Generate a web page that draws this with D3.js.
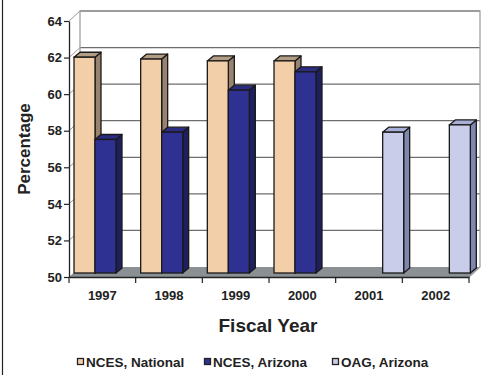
<!DOCTYPE html>
<html>
<head>
<meta charset="utf-8">
<script src="https://cdn.jsdelivr.net/npm/d3@7"></script>
<style>
  html, body { margin: 0; padding: 0; background: #fff; }
  svg { display: block; font-family: Arial, "Liberation Sans", sans-serif; }
</style>
</head>
<body>
<script>
// data
const years = ['1997', '1998', '1999', '2000', '2001', '2002'];
const seriesNames = ['NCES, National', 'NCES, Arizona', 'OAG, Arizona'];
const national = [61.8, 61.7, 61.6, 61.6, null, null];
const arizona  = [57.3, 57.7, 60.0, 61.0, null, null];
const oag      = [null, null, null, null, 57.7, 58.1];
const yTicks = [50, 52, 54, 56, 58, 60, 62, 64];

const width = 487, height = 375;
const fontStack = 'Arial, "Liberation Sans", sans-serif';

// 3d offsets
const wallDx = 11, wallDy = -10;   // back wall depth
const barOx = 4, barOy = -4;      // bar front face offset from axis plane
const barDx = 6, barDy = -5;      // bar depth

const colors = [
  { front: '#F2CFA9', top: '#B29C84', side: '#978370' },
  { front: '#2E3192', top: '#2A2D82', side: '#1D1F5E' },
  { front: '#C9CDE9', top: '#A8AFD4', side: '#7E87AE' }
];

const svg = d3.select('body').append('svg')
  .attr('width', width)
  .attr('height', height);

// left frame line
svg.append('line')
  .attr('x1', 2.5).attr('x2', 2.5).attr('y1', 0).attr('y2', height)
  .attr('stroke', '#222').attr('stroke-width', 1.2);

const x = d3.scaleBand().domain(years).range([69, 469]).paddingInner(0).paddingOuter(0);
const xSeries = d3.scaleBand().domain(seriesNames).range([1, 64]);
const y = d3.scaleLinear().domain([50, 64]).range([277, 21]);

// floor
svg.append('polygon')
  .attr('points', [[x.range()[0], y(50)], [x.range()[0] + wallDx, y(50) + wallDy],
                   [x.range()[1] + wallDx, y(50) + wallDy], [x.range()[1], y(50)]].join(' '))
  .attr('fill', '#8A9094');

// back wall
svg.append('rect')
  .attr('x', x.range()[0] + wallDx)
  .attr('y', y(64) + wallDy)
  .attr('width', x.range()[1] - x.range()[0])
  .attr('height', y(50) - y(64))
  .attr('fill', '#fff');

// gridlines on back wall and left wall
yTicks.filter(v => v > 50).forEach(v => {
  svg.append('line')
    .attr('x1', x.range()[0] + wallDx).attr('x2', x.range()[1] + wallDx)
    .attr('y1', y(v) + wallDy).attr('y2', y(v) + wallDy)
    .attr('stroke', '#6e6e6e').attr('stroke-width', 1.3);
  svg.append('line')
    .attr('x1', x.range()[0]).attr('x2', x.range()[0] + wallDx)
    .attr('y1', y(v)).attr('y2', y(v) + wallDy)
    .attr('stroke', '#9a9a9a').attr('stroke-width', 1);
});

// wall edges
svg.append('path')
  .attr('d', 'M' + (x.range()[0] + wallDx) + ',' + (y(50) + wallDy) +
             'V' + (y(64) + wallDy) + 'H' + (x.range()[1] + wallDx) +
             'V' + (y(50) + wallDy) + 'L' + x.range()[1] + ',' + y(50))
  .attr('fill', 'none').attr('stroke', '#a0a0a0').attr('stroke-width', 1.3);

// bars
const values = [national, arizona, oag];
const bars = [];
years.forEach((yr, i) => {
  values.forEach((vals, s) => {
    if (vals[i] == null) return;
    bars.push({ year: yr, s: s, value: vals[i] });
  });
});

const base = y(50) + barOy;
function yBar(v) { return base - (y(50) - y(v)); }

const barG = svg.append('g').selectAll('g')
  .data(bars)
  .enter()
  .append('g');

barG.each(function(d) {
  const g = d3.select(this);
  const x0 = x(d.year) + xSeries(seriesNames[d.s]) + barOx;
  const w = xSeries.bandwidth();
  const yt = yBar(d.value);
  const c = colors[d.s];
  g.append('polygon')
    .attr('points', [[x0 + w, yt], [x0 + w + barDx, yt + barDy], [x0 + w + barDx, base + barDy], [x0 + w, base]].join(' '))
    .attr('fill', c.side).attr('stroke', '#1a1a1a').attr('stroke-width', 1.3).attr('stroke-linejoin', 'round');
  g.append('polygon')
    .attr('points', [[x0, yt], [x0 + barDx, yt + barDy], [x0 + w + barDx, yt + barDy], [x0 + w, yt]].join(' '))
    .attr('fill', c.top).attr('stroke', '#1a1a1a').attr('stroke-width', 1.3).attr('stroke-linejoin', 'round');
  g.append('rect')
    .attr('x', x0).attr('y', yt).attr('width', w).attr('height', base - yt)
    .attr('fill', c.front).attr('stroke', '#1a1a1a').attr('stroke-width', 1.3);
});

// y axis
const yAxis = svg.append('g')
  .attr('transform', 'translate(' + x.range()[0] + ',0)')
  .call(d3.axisLeft(y).tickValues(yTicks).tickSize(5).tickPadding(2).tickSizeOuter(0));
yAxis.select('.domain').attr('stroke', '#222').attr('stroke-width', 1.3);
yAxis.selectAll('.tick line').attr('stroke', '#222').attr('stroke-width', 1.2);
yAxis.selectAll('.tick text')
  .attr('font-family', fontStack).attr('font-size', 13).attr('font-weight', 'bold').attr('fill', '#222');

// x axis
const xAxis = svg.append('g')
  .attr('transform', 'translate(0,' + y(50) + ')')
  .call(d3.axisBottom(x).tickSize(0).tickPadding(14));
xAxis.select('.domain').attr('stroke', '#222').attr('stroke-width', 1.3);
xAxis.selectAll('.tick text')
  .attr('font-family', fontStack).attr('font-size', 13).attr('font-weight', 'bold').attr('fill', '#222');
// ticks at band edges
xAxis.selectAll('.edge')
  .data(years.map(d => x(d)).concat([x.range()[1]]))
  .enter()
  .append('line')
  .attr('x1', d => d).attr('x2', d => d)
  .attr('y1', 0).attr('y2', 6)
  .attr('stroke', '#222').attr('stroke-width', 1.2);

// axis titles
svg.append('text')
  .attr('x', 268).attr('y', 332)
  .attr('text-anchor', 'middle')
  .attr('font-family', fontStack).attr('font-size', 19).attr('font-weight', 'bold').attr('fill', '#222')
  .text('Fiscal Year');

svg.append('text')
  .attr('transform', 'translate(30,149) rotate(-90)')
  .attr('text-anchor', 'middle')
  .attr('font-family', fontStack).attr('font-size', 17).attr('font-weight', 'bold').attr('fill', '#222')
  .text('Percentage');

// legend
const legendX = [77, 204, 332];
const legend = svg.append('g').selectAll('g')
  .data(seriesNames)
  .enter()
  .append('g')
  .attr('transform', (d, i) => 'translate(' + legendX[i] + ',358)');
legend.append('rect')
  .attr('x', 0.5).attr('y', 0.5).attr('width', 6).attr('height', 6)
  .attr('fill', (d, i) => colors[i].front)
  .attr('stroke', '#222').attr('stroke-width', 1.3);
legend.append('text')
  .attr('x', 9).attr('y', 8.8)
  .attr('font-family', fontStack).attr('font-size', 13.5).attr('font-weight', 'bold').attr('fill', '#222')
  .text(d => d);
</script>
</body>
</html>
